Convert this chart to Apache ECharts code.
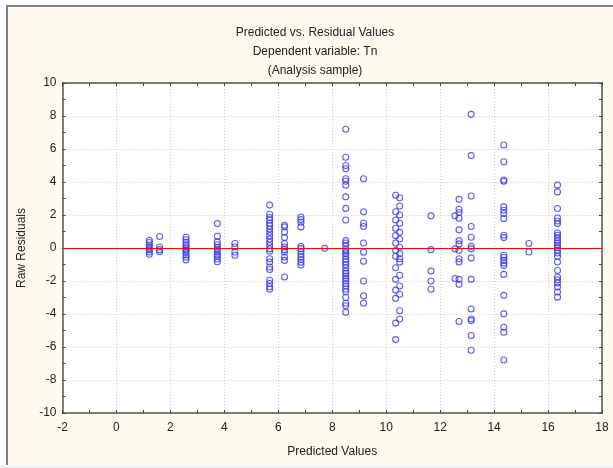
<!DOCTYPE html>
<html>
<head>
<meta charset="utf-8">
<script src="https://cdn.jsdelivr.net/npm/echarts@6/dist/echarts.min.js"></script>
<style>
html,body{margin:0;padding:0;background:#ffffff;}
#wrap{position:relative;width:613px;height:468px;overflow:hidden;}
#panel{position:absolute;left:6px;top:5px;width:620px;height:458px;background:#fffaee;border-left:2px solid #808080;border-top:2px solid #808080;}
#strip{position:absolute;left:0;top:465px;width:613px;height:3px;background:#f2f2f2;}
#chart{position:absolute;left:0;top:0;width:613px;height:468px;}
</style>
</head>
<body>
<div id="wrap"><div id="panel"></div><div id="strip"></div><div id="chart"></div></div>
<script>
// Predicted value (x) of each column of points
const predicted = [1.22, 1.6, 2.58, 3.74, 4.39, 5.68, 6.23, 6.84, 7.72, 8.5, 9.16, 10.35, 10.5, 11.66, 12.55, 12.7, 13.15, 14.36, 15.29, 16.35];
// Raw residuals (y) for each column, same order as predicted
const residuals = [
  [0.47, 0.33, 0.18, 0.04, -0.1, -0.24, -0.38],
  [0.7, 0.06, -0.1, -0.22],
  [0.65, 0.5, 0.35, 0.2, 0.08, -0.05, -0.15, -0.28, -0.42, -0.56, -0.72],
  [1.48, 0.71, 0.37, 0.2, 0.04, -0.1, -0.24, -0.39, -0.52, -0.67, -0.83],
  [0.27, 0.06, -0.24, -0.44],
  [2.6, 2.05, 1.85, 1.7, 1.5, 1.35, 1.15, 0.95, 0.75, 0.55, 0.35, 0.15, -0.05, -0.2, -0.65, -0.85, -1.15, -1.3, -1.95, -2.15, -2.35, -2.5],
  [1.38, 1.28, 0.97, 0.63, 0.27, 0.06, -0.1, -0.24, -0.55, -0.75, -1.76],
  [1.88, 1.72, 1.56, 1.28, 0.1, -0.04, -0.2, -0.38, -0.55, -0.71, -0.87, -1.03],
  [-0.02],
  [7.2, 5.5, 5.0, 4.8, 4.2, 4.05, 3.8, 3.1, 2.4, 1.7, 0.45, 0.3, 0.15, -0.1, -0.25, -0.35, -0.5, -0.7, -0.85, -1.0, -1.2, -1.4, -1.55, -1.7, -1.85, -2.0, -2.15, -2.3, -2.5, -2.65, -3.0, -3.35, -3.5, -3.9],
  [4.2, 2.2, 1.5, 1.3, 0.3, -0.25, -0.8, -2.0, -2.9, -3.35],
  [3.2, 2.2, 1.7, 1.2, 0.75, 0.3, -0.15, -0.5, -1.2, -1.9, -2.55, -3.05, -4.55, -5.55],
  [3.05, 2.55, 2.0, 1.5, 0.95, 0.55, 0.05, -0.35, -0.65, -0.85, -1.65, -2.3, -2.8, -3.8, -4.3],
  [1.95, -0.1, -1.4, -2.0, -2.5],
  [1.95, -0.05, -1.85],
  [2.95, 2.35, 2.15, 1.8, 1.1, 0.45, 0.25, -0.15, -0.65, -0.85, -1.9, -2.2, -4.45],
  [8.1, 5.6, 3.15, 1.3, 0.65, 0.1, -0.05, -0.6, -1.9, -3.7, -4.3, -4.4, -5.3, -6.2],
  [6.24, 5.23, 4.12, 4.05, 2.49, 2.29, 2.09, 1.78, 0.77, 0.63, -0.44, -0.58, -0.75, -0.91, -1.05, -1.6, -2.87, -3.99, -4.8, -5.11, -6.79],
  [0.27, -0.24],
  [3.81, 3.4, 2.39, 1.82, 1.64, 1.48, 0.91, 0.77, 0.63, 0.47, 0.3, 0.16, 0.02, -0.14, -0.3, -0.51, -0.85, -1.36, -1.76, -1.92, -2.12, -2.37, -2.67, -2.98]
];
const xTicks = [-2, 18, 2];
const yTicks = [-10, 10, 2];

const points = [];
predicted.forEach((x, i) => residuals[i].forEach(y => points.push([x, y])));

const chart = echarts.init(document.getElementById('chart'), null, {renderer: 'canvas'});
const font = '"Liberation Sans", Arial, sans-serif';
const frame = {show: true, onZero: false, lineStyle: {color: '#555', width: 1.5}};
const tick = {show: true, inside: true, length: 3, lineStyle: {color: '#444'}};
const minor = {show: true, splitNumber: 2, length: 3, lineStyle: {color: '#444'}};
const split = {show: true, lineStyle: {color: '#c8c8c8', type: [1, 2], width: 1}};
chart.setOption({
  backgroundColor: 'transparent',
  animation: false,
  title: {
    text: 'Predicted vs. Residual Values\nDependent variable: Tn\n(Analysis sample)',
    left: 310, top: 18, textAlign: 'center',
    textStyle: {fontFamily: font, fontSize: 12, fontWeight: 'normal', color: '#222', lineHeight: 19}
  },
  grid: {left: 62.5, right: 11, top: 83, bottom: 55, show: true, backgroundColor: '#ffffff', borderWidth: 0},
  xAxis: [{
    type: 'value', min: xTicks[0], max: xTicks[1], interval: xTicks[2], position: 'bottom',
    name: 'Predicted Values', nameLocation: 'middle', nameGap: 33,
    nameTextStyle: {fontFamily: font, fontSize: 12, color: '#222'},
    axisLine: frame, axisTick: tick, minorTick: minor, splitLine: split,
    axisLabel: {fontFamily: font, fontSize: 12, color: '#222', margin: 9}
  }, {
    type: 'value', min: xTicks[0], max: xTicks[1], interval: xTicks[2], position: 'top',
    axisLine: frame, axisTick: tick, minorTick: minor, splitLine: {show: false}, axisLabel: {show: false}
  }],
  yAxis: [{
    type: 'value', min: yTicks[0], max: yTicks[1], interval: yTicks[2], position: 'left',
    name: 'Raw Residuals', nameLocation: 'middle', nameGap: 35,
    nameTextStyle: {fontFamily: font, fontSize: 12, color: '#222'},
    axisLine: frame, axisTick: tick, minorTick: minor, splitLine: split,
    axisLabel: {fontFamily: font, fontSize: 12, color: '#222', margin: 6}
  }, {
    type: 'value', min: yTicks[0], max: yTicks[1], interval: yTicks[2], position: 'right',
    axisLine: frame, axisTick: tick, minorTick: minor, splitLine: {show: false}, axisLabel: {show: false}
  }],
  series: [{
    type: 'scatter',
    data: points,
    symbol: 'circle',
    symbolSize: 6,
    itemStyle: {color: 'rgba(255,255,255,0)', borderColor: '#3535ff', borderWidth: 1.1},
    markLine: {
      silent: true, symbol: 'none', label: {show: false},
      lineStyle: {color: '#ff0000', width: 1, type: 'solid'},
      data: [{yAxis: 0}]
    }
  }]
});
</script>
</body>
</html>
